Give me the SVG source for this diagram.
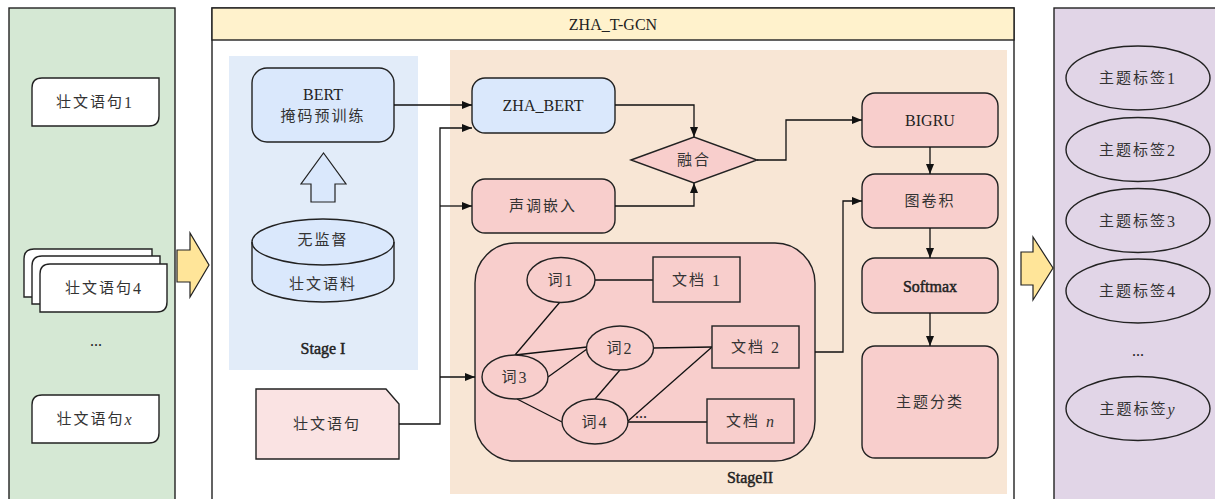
<svg xmlns="http://www.w3.org/2000/svg" width="1215" height="499" viewBox="0 0 1215 499">
  <style>
    .t { font-family: "Liberation Serif", "Noto Sans CJK SC", serif; font-size: 16px; fill: #222; text-anchor: middle; dominant-baseline: central; }
    .zh { font-family: "Liberation Serif", "Noto Sans CJK SC", serif; font-size: 15px; fill: #333; text-anchor: middle; dominant-baseline: central; letter-spacing: 2px; }
    .num { font-size: 16px; }
    .semi { stroke: #222; stroke-width: 0.45; }
    .box { stroke: #222; stroke-width: 1.4; }
    .blue { fill: #dae8fc; }
    .pink { fill: #f8cecc; }
    .white { fill: #ffffff; }
    .purple { fill: #e1d5e7; }
    .edge { fill: none; stroke: #111; stroke-width: 1.3; }
    .arrow { fill: none; stroke: #111; stroke-width: 1.3; marker-end: url(#ah); }
    .big { fill: #ffe599; stroke: #222; stroke-width: 1.2; }
  </style>
  <defs>
    <marker id="ah" viewBox="0 0 10 8" refX="10" refY="4" markerWidth="10" markerHeight="8" markerUnits="userSpaceOnUse" orient="auto">
      <path d="M0,0 L10,4 L0,8 z" fill="#111"/>
    </marker>
  </defs>

  <rect width="1215" height="499" fill="#ffffff"/>

  <!-- input panel -->
  <g id="input-panel">
    <rect x="9" y="8" width="166" height="500" fill="#d5e8d4" class="box"/>
    <g id="sent1">
      <path d="M42,78 H159 V116 Q159,126 149,126 H32 V88 Q32,78 42,78 Z" class="white box"/>
      <text x="95" y="102" class="zh">壮文语句<tspan class="num">1</tspan></text>
    </g>
    <g id="sent4">
      <path d="M34,249 H152 V287 Q152,297 142,297 H24 V259 Q24,249 34,249 Z" class="white box"/>
      <path d="M42,256 H160 V294 Q160,304 150,304 H32 V266 Q32,256 42,256 Z" class="white box"/>
      <path d="M50,264 H167 V302 Q167,312 157,312 H40 V274 Q40,264 50,264 Z" class="white box"/>
      <text x="104" y="288" class="zh">壮文语句<tspan class="num">4</tspan></text>
    </g>
    <text x="96" y="340" class="t" font-size="12">...</text>
    <g id="sentx">
      <path d="M42,395 H159 V433 Q159,443 149,443 H32 V405 Q32,395 42,395 Z" class="white box"/>
      <text x="95" y="419" class="zh">壮文语句<tspan class="num" font-style="italic">x</tspan></text>
    </g>
  </g>

  <!-- block arrows between panels -->
  <g id="flow-in">
    <path d="M177,250 H190 V233 L209,265 L190,297 V282 H177 Z" class="big"/>
  </g>
  <g id="flow-out">
    <path d="M1021,252 H1033 V237 L1053,268 L1033,300 V285 H1021 Z" class="big"/>
  </g>

  <!-- model panel -->
  <g id="model-panel">
    <rect x="212" y="8" width="802" height="500" fill="#ffffff" class="box"/>
    <rect x="212" y="8" width="802" height="32" fill="#fff2cc" class="box"/>
    <text x="613" y="24" class="t">ZHA_T-GCN</text>
  </g>

  <!-- stage I -->
  <g id="stage1">
    <rect x="229" y="56" width="189" height="314" fill="#e2ecf9"/>
    <text x="323" y="348" class="t semi" font-size="15">Stage I</text>
  </g>

  <!-- stage II -->
  <g id="stage2">
    <rect x="450" y="50" width="557" height="444" fill="#f8e6d5"/>
    <text x="750" y="477" class="t semi" font-size="15">StageII</text>
  </g>

  <g id="bert">
    <rect x="252" y="68" width="142" height="74" rx="15" class="blue box"/>
    <text x="323" y="94" class="t">BERT</text>
    <text x="323" y="116" class="zh">掩码预训练</text>
  </g>

  <g id="up-arrow">
    <path d="M311,202 V184 H301 L323.5,153 L346,184 H335 V202 Z" fill="#dae8fc" stroke="#222" stroke-width="1.2"/>
  </g>

  <g id="corpus">
    <path d="M252,242 V279 A71,23 0 0 0 394,279 V242 A71,23 0 0 0 252,242 Z" class="blue box"/>
    <path d="M252,242 A71,23 0 0 0 394,242" fill="none" stroke="#222" stroke-width="1.4"/>
    <text x="323" y="240" class="zh">无监督</text>
    <text x="323" y="284" class="zh">壮文语料</text>
  </g>

  <g id="sentence">
    <path d="M256,389 H386 L399,404 V459 H256 Z" fill="#fae3e3" class="box"/>
    <text x="327" y="424" class="zh">壮文语句</text>
  </g>

  <g id="zha-bert">
    <rect x="472" y="78" width="143" height="55" rx="13" class="blue box"/>
    <text x="543" y="105" class="t">ZHA_BERT</text>
  </g>

  <g id="tone">
    <rect x="472" y="179" width="143" height="54" rx="13" class="pink box"/>
    <text x="543" y="206" class="zh">声调嵌入</text>
  </g>

  <g id="fusion">
    <path d="M631,160 L694,137 L757,160 L694,183 Z" class="pink box"/>
    <text x="694" y="160" class="zh">融合</text>
  </g>

  <g id="graph">
    <rect x="475" y="243" width="340" height="218" rx="40" class="pink box"/>
    <g id="graph-edges">
      <line x1="595" y1="280" x2="653" y2="280" class="edge"/>
      <line x1="560" y1="302" x2="515" y2="355" class="edge"/>
      <line x1="515" y1="355" x2="587" y2="347" class="edge"/>
      <line x1="548" y1="377" x2="587" y2="349" class="edge"/>
      <line x1="517" y1="399" x2="562" y2="422" class="edge"/>
      <line x1="620" y1="370" x2="595" y2="399" class="edge"/>
      <line x1="653" y1="348" x2="712" y2="347" class="edge"/>
      <line x1="628" y1="421" x2="712" y2="347" class="edge"/>
      <line x1="628" y1="422" x2="707" y2="422" class="edge"/>
    </g>
    <g id="w1">
      <ellipse cx="561" cy="280" rx="34" ry="22.5" class="pink box"/>
      <text x="561" y="280" class="zh" letter-spacing="0">词<tspan class="num">1</tspan></text>
    </g>
    <g id="w2">
      <ellipse cx="620" cy="348" rx="33.5" ry="22" class="pink box"/>
      <text x="620" y="348" class="zh" letter-spacing="0">词<tspan class="num">2</tspan></text>
    </g>
    <g id="w3">
      <ellipse cx="515" cy="377" rx="33" ry="22" class="pink box"/>
      <text x="515" y="377" class="zh" letter-spacing="0">词<tspan class="num">3</tspan></text>
    </g>
    <g id="w4">
      <ellipse cx="595" cy="421.5" rx="33" ry="22.5" class="pink box"/>
      <text x="595" y="421.5" class="zh" letter-spacing="0">词<tspan class="num">4</tspan></text>
    </g>
    <text x="641" y="412" class="t" font-size="11">...</text>
    <g id="d1">
      <rect x="653" y="257" width="87" height="45" class="pink box"/>
      <text x="697" y="280" class="zh">文档 <tspan class="num">1</tspan></text>
    </g>
    <g id="d2">
      <rect x="712" y="326" width="87" height="42" class="pink box"/>
      <text x="756" y="347" class="zh">文档 <tspan class="num">2</tspan></text>
    </g>
    <g id="dn">
      <rect x="707" y="399" width="87" height="44" class="pink box"/>
      <text x="751" y="421" class="zh">文档 <tspan class="num" font-style="italic">n</tspan></text>
    </g>
  </g>

  <g id="bigru">
    <rect x="862" y="93" width="136" height="54" rx="13" class="pink box"/>
    <text x="930" y="120" class="t">BIGRU</text>
  </g>
  <g id="gconv">
    <rect x="862" y="174" width="136" height="54" rx="13" class="pink box"/>
    <text x="930" y="201" class="zh">图卷积</text>
  </g>
  <g id="softmax">
    <rect x="862" y="258" width="136" height="55" rx="13" class="pink box"/>
    <text x="930" y="286" class="t semi" font-size="16">Softmax</text>
  </g>
  <g id="classify">
    <rect x="862" y="346" width="136" height="112" rx="13" class="pink box"/>
    <text x="930" y="402" class="zh">主题分类</text>
  </g>

  <!-- connectors -->
  <g id="connectors">
    <path d="M394,105 H472" class="arrow"/>
    <path d="M399,424 H440 V128 H472" class="arrow"/>
    <path d="M440,206 H472" class="arrow"/>
    <path d="M440,377 H475" class="arrow"/>
    <path d="M615,105 H694 V137" class="arrow"/>
    <path d="M615,206 H694 V183" class="arrow"/>
    <path d="M757,160 H786 V120 H862" class="arrow"/>
    <path d="M815,352 H843 V201 H862" class="arrow"/>
    <path d="M930,147 V174" class="arrow"/>
    <path d="M930,228 V258" class="arrow"/>
    <path d="M930,313 V346" class="arrow"/>
  </g>

  <!-- output panel -->
  <g id="output-panel">
    <rect x="1054" y="8" width="170" height="500" class="purple box"/>
    <g id="label1">
      <ellipse cx="1138" cy="78" rx="72" ry="32" class="purple box"/>
      <text x="1138" y="78" class="zh">主题标签<tspan class="num">1</tspan></text>
    </g>
    <g id="label2">
      <ellipse cx="1138" cy="149.5" rx="72" ry="32" class="purple box"/>
      <text x="1138" y="149.5" class="zh">主题标签<tspan class="num">2</tspan></text>
    </g>
    <g id="label3">
      <ellipse cx="1138" cy="220.5" rx="72" ry="32" class="purple box"/>
      <text x="1138" y="220.5" class="zh">主题标签<tspan class="num">3</tspan></text>
    </g>
    <g id="label4">
      <ellipse cx="1138" cy="291" rx="72" ry="32" class="purple box"/>
      <text x="1138" y="291" class="zh">主题标签<tspan class="num">4</tspan></text>
    </g>
    <text x="1138" y="350" class="t" font-size="12">...</text>
    <g id="labely">
      <ellipse cx="1138" cy="408.5" rx="72" ry="32" class="purple box"/>
      <text x="1138" y="408.5" class="zh">主题标签<tspan class="num" font-style="italic">y</tspan></text>
    </g>
  </g>
</svg>
